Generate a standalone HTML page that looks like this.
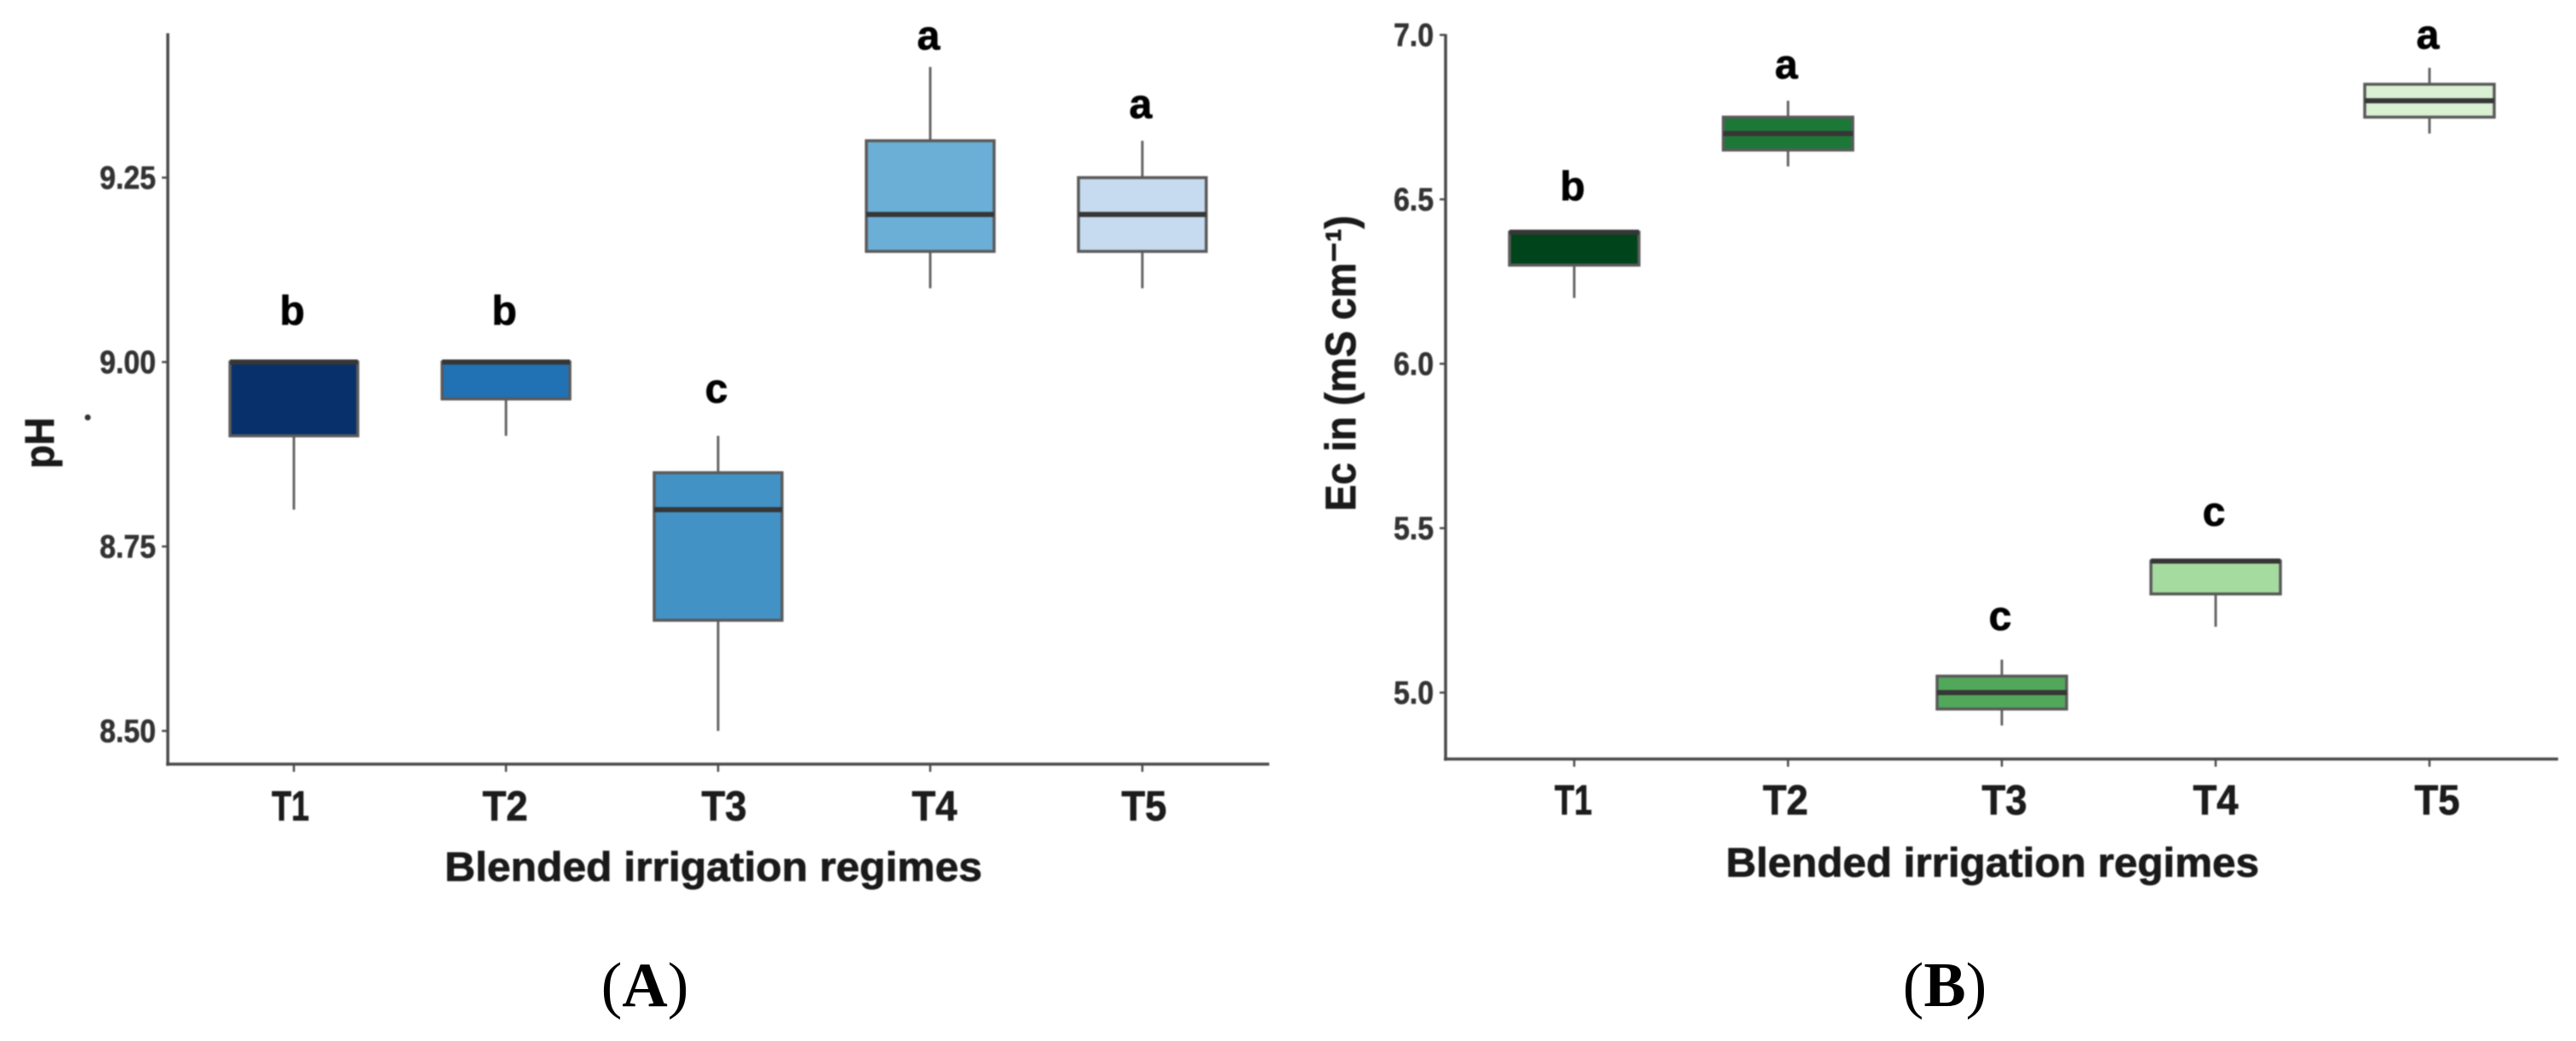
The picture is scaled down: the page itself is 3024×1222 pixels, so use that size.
<!DOCTYPE html>
<html lang="en">
<head>
<meta charset="utf-8">
<title>Blended irrigation regimes: pH and Ec box plots</title>
<style>
html,body{margin:0;padding:0;background:#fff;width:3024px;height:1222px;overflow:hidden}
svg{display:block}
text{font-family:"Liberation Sans",sans-serif;font-weight:bold}
.soft{filter:blur(0.9px)}
.panel-label{font-family:"Liberation Serif",serif;font-size:74px;fill:#000;font-weight:normal}
</style>
</head>
<body>
<svg id="figure" xmlns="http://www.w3.org/2000/svg" width="3024" height="1222" viewBox="0 0 3024 1222">
  <rect width="3024" height="1222" fill="#ffffff"/>
  <g id="chart-a" class="soft"></g>
  <g id="chart-b" class="soft"></g>
  <text class="panel-label" x="757" y="1181" text-anchor="middle">(<tspan font-weight="bold">A</tspan>)</text>
  <text class="panel-label" x="2283" y="1181" text-anchor="middle">(<tspan font-weight="bold">B</tspan>)</text>
</svg>
<script>
const categories = ['T1', 'T2', 'T3', 'T4', 'T5'];

const phTicks = [8.5, 8.75, 9, 9.25];
const phTickLabels = ['8.50', '8.75', '9.00', '9.25'];
const phLow = [8.8, 8.9, 8.5, 9.1, 9.1];
const phQ1 = [8.9, 8.95, 8.65, 9.15, 9.15];
const phMedian = [9, 9, 8.8, 9.2, 9.2];
const phQ3 = [9, 9, 8.85, 9.3, 9.25];
const phHigh = [9, 9, 8.9, 9.4, 9.3];
const phLetters = ['b', 'b', 'c', 'a', 'a'];
const phLetterLevel = [9.051, 9.051, 8.945, 9.424, 9.331];
const phColors = ['#08306b', '#2171b5', '#4292c6', '#6baed6', '#c6dbef'];

const ecTicks = [5, 5.5, 6, 6.5, 7];
const ecTickLabels = ['5.0', '5.5', '6.0', '6.5', '7.0'];
const ecLow = [6.2, 6.6, 4.9, 5.2, 6.7];
const ecQ1 = [6.3, 6.65, 4.95, 5.3, 6.75];
const ecMedian = [6.4, 6.7, 5, 5.4, 6.8];
const ecQ3 = [6.4, 6.75, 5.05, 5.4, 6.85];
const ecHigh = [6.4, 6.8, 5.1, 5.4, 6.9];
const ecLetters = ['b', 'a', 'c', 'c', 'a'];
const ecLetterLevel = [6.497, 6.868, 5.19, 5.508, 6.958];
const ecColors = ['#00441b', '#1b7837', '#52a85a', '#a6dba0', '#d9f0d3'];

const NS = 'http://www.w3.org/2000/svg';

function make(parent, tag, attrs, content) {
  const el = document.createElementNS(NS, tag);
  for (const k in attrs) el.setAttribute(k, attrs[k]);
  if (content !== undefined) el.textContent = content;
  parent.appendChild(el);
  return el;
}

function drawChart(o) {
  const root = document.getElementById(o.id);
  const x = i => o.x0 + i * o.xStep;
  const y = v => o.yRef - (v - o.vRef) * o.yUnit;
  let el;

  el = make(root, 'line', {x1: o.axisX, x2: o.axisX, y1: o.axisTop, y2: o.axisY + 2, stroke: '#4a4a4a', 'stroke-width': 3.5});
  
  

  el = make(root, 'line', {x1: o.axisX - 2, x2: o.axisEnd, y1: o.axisY, y2: o.axisY, stroke: '#4a4a4a', 'stroke-width': 3.5});
  
  

  o.ticks.forEach((t, i) => {
    el = make(root, 'line', {x1: o.axisX - 7, x2: o.axisX, y1: y(t), y2: y(t), stroke: '#4a4a4a', 'stroke-width': 2.5});
    
    

    el = make(root, 'text', {x: o.axisX - 14, y: y(t) + 13, 'text-anchor': 'end', 'font-size': 38, fill: '#333', stroke: '#333', 'stroke-width': 0.6, textLength: o.tickWidth, lengthAdjust: 'spacingAndGlyphs'}, o.tickLabels[i]);
    
    
  });

  categories.forEach((c, i) => {
    const cx = x(i);
    const w = o.boxWidth;

    el = make(root, 'line', {x1: cx, x2: cx, y1: y(o.high[i]), y2: y(o.low[i]), stroke: '#666', 'stroke-width': 3});
    
    

    el = make(root, 'rect', {x: cx - w / 2, y: y(o.q3[i]), width: w, height: y(o.q1[i]) - y(o.q3[i]), fill: o.colors[i], stroke: '#5a5a5a', 'stroke-width': 3.5});
    
    

    el = make(root, 'line', {x1: cx - w / 2, x2: cx + w / 2, y1: y(o.median[i]), y2: y(o.median[i]), stroke: '#363636', 'stroke-width': 6});
    
    

    el = make(root, 'line', {x1: cx, x2: cx, y1: o.axisY, y2: o.axisY + 9, stroke: '#4a4a4a', 'stroke-width': 2.5});
    
    

    el = make(root, 'text', {x: cx + o.catNudge[i], y: o.axisY + o.catOffset, 'text-anchor': 'middle', 'font-size': 49, fill: '#1c1c1c', stroke: '#1c1c1c', 'stroke-width': 0.8, textLength: c === 'T1' ? 44 : 53, lengthAdjust: 'spacingAndGlyphs'}, c);
    
    

    el = make(root, 'text', {x: cx - 2, y: y(o.level[i]), 'text-anchor': 'middle', 'font-size': 48, fill: '#000', stroke: '#000', 'stroke-width': 0.8}, o.letters[i]);
    
    
  });

  el = make(root, 'text', {x: o.titleX, y: o.titleY, 'font-size': 48, fill: '#1a1a1a', stroke: '#1a1a1a', 'stroke-width': 0.8, textLength: o.titleW, lengthAdjust: 'spacingAndGlyphs'}, 'Blended irrigation regimes');
  
  

  el = make(root, 'text', {transform: 'translate(' + o.yTitleX + ' ' + o.yTitleY + ') rotate(-90)', 'font-size': o.yTitleSize, fill: '#1a1a1a', stroke: '#1a1a1a', 'stroke-width': 0.8, textLength: o.yTitleW, lengthAdjust: 'spacingAndGlyphs'}, o.yTitle);
  
  
}

drawChart({
  id: 'chart-a', x0: 345, xStep: 249, boxWidth: 150,
  yRef: 425, vRef: 9, yUnit: 866,
  axisX: 197, axisTop: 39, axisY: 897, axisEnd: 1490,
  catOffset: 66, catNudge: [-4, -1, 7, 5, 2], tickWidth: 66,
  ticks: phTicks, tickLabels: phTickLabels,
  low: phLow, q1: phQ1, median: phMedian, q3: phQ3, high: phHigh,
  letters: phLetters, level: phLetterLevel, colors: phColors,
  titleX: 522, titleY: 1034, titleW: 631,
  yTitle: 'pH', yTitleSize: 48, yTitleX: 63, yTitleY: 550, yTitleW: 60
});

drawChart({
  id: 'chart-b', x0: 1848, xStep: 251, boxWidth: 152,
  yRef: 427, vRef: 6, yUnit: 386,
  axisX: 1697, axisTop: 40, axisY: 891, axisEnd: 3003,
  catOffset: 65, catNudge: [-1, -3, 3, 0, 9], tickWidth: 47,
  ticks: ecTicks, tickLabels: ecTickLabels,
  low: ecLow, q1: ecQ1, median: ecMedian, q3: ecQ3, high: ecHigh,
  letters: ecLetters, level: ecLetterLevel, colors: ecColors,
  titleX: 2026, titleY: 1029, titleW: 626,
  yTitle: 'Ec in (mS cm\u207B\u00B9)', yTitleSize: 50, yTitleX: 1591, yTitleY: 600, yTitleW: 347
});

const stray = make(document.getElementById('chart-a'), 'circle', {cx: 103, cy: 490, r: 3.5, fill: '#333'});


</script>
</body>
</html>
